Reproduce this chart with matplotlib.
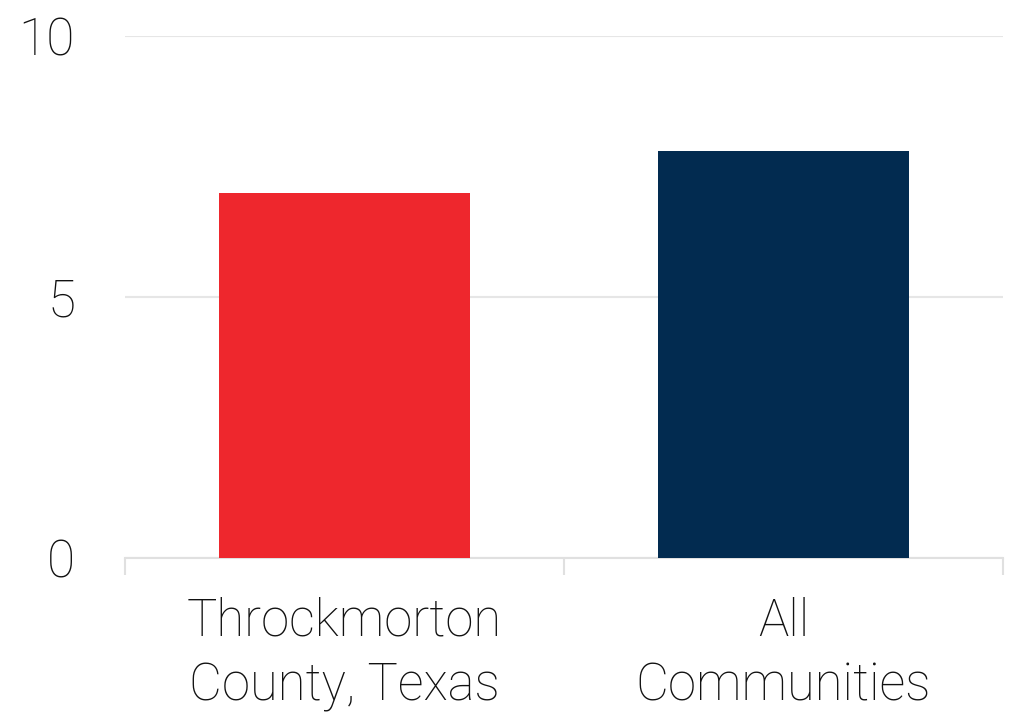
import matplotlib
matplotlib.use("Agg")
import matplotlib.pyplot as plt
import numpy as np

categories = ["Throckmorton\nCounty, Texas", "All\nCommunities"]
values = [7.0, 7.8]
colors = ["#EE272D", "#022B50"]
yticks = [0, 5, 10]

plt.rcParams['font.family'] = ['Roboto', 'DejaVu Sans']
plt.rcParams['font.weight'] = 'light'

fig = plt.figure(figsize=(10.2, 7.13), dpi=100)
ax = fig.add_axes([125/1020, 1 - 558/713, (1003-125)/1020, (558-36)/713])

x = np.arange(len(categories))
ax.bar(x, values, width=0.572, color=colors, zorder=3)
ax.set_xlim(-0.5, len(categories) - 0.5)
ax.set_ylim(0, 10)
ax.set_yticks(yticks)
ax.set_yticklabels([str(t) for t in yticks], fontweight='light')
ax.set_xticks(x)
ax.set_xticklabels(categories, linespacing=1.38, fontweight='light')
ax.set_xticks(np.arange(-0.5, len(categories)), minor=True)

ax.grid(axis='y', color='#E6E6E6', linewidth=1.5, zorder=0)
for s in ['top', 'right', 'left']:
    ax.spines[s].set_visible(False)
ax.spines['bottom'].set_color('#E0E0E0')
ax.spines['bottom'].set_linewidth(1.5)

ax.tick_params(axis='y', length=0, pad=36, labelsize=37, labelcolor='#111111')
ax.tick_params(axis='x', which='major', length=0, pad=28, labelsize=36.5, labelcolor='#111111')
ax.tick_params(axis='x', which='minor', length=12, width=1.5, color='#E0E0E0')

fig.savefig("out.png", dpi=100, facecolor='white')
